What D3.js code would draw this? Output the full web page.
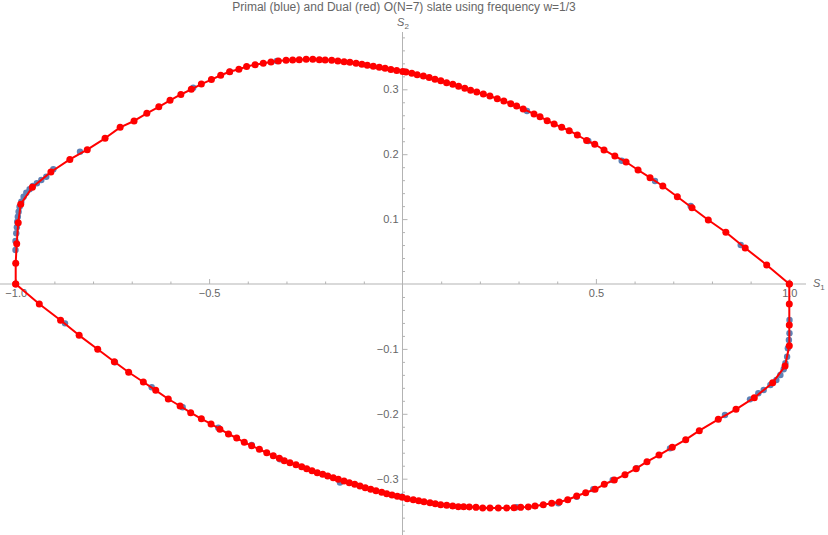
<!DOCTYPE html>
<html>
<head>
<meta charset="utf-8">
<script src="https://cdn.jsdelivr.net/npm/d3@7"></script>
<style>
  body { margin: 0; background: #fff; }
  svg { display: block; font-family: "Liberation Sans", Arial, sans-serif; }
</style>
</head>
<body>
<div id="chart"></div>
<script>
// Slate O(N=7): primal (azul) y dual (rojo) en el plano S1-S2.

const TITLE = "Primal (blue) and Dual (red) O(N=7) slate using frequency w=1/3";

// rama superior del dual, de S1=-1 a S1=1
const dualUpper = [
  [-1.0, 0.0], [-1.0, 0.032], [-0.9974, 0.062], [-0.9935, 0.0945], [-0.987, 0.123],
  [-0.957, 0.149], [-0.909, 0.1726], [-0.860, 0.192], [-0.815, 0.207], [-0.769, 0.2245],
  [-0.730, 0.2414], [-0.694, 0.2512], [-0.661, 0.263], [-0.630, 0.273], [-0.601, 0.283],
  [-0.573, 0.292], [-0.546, 0.300], [-0.520, 0.308], [-0.494, 0.315], [-0.470, 0.3216],
  [-0.447, 0.327], [-0.423, 0.331], [-0.403, 0.335], [-0.381, 0.338], [-0.360, 0.340],
  [-0.340, 0.342], [-0.321, 0.3435], [-0.301, 0.3447], [-0.284, 0.3452], [-0.267, 0.3456],
  [-0.249, 0.3462], [-0.232, 0.3462], [-0.215, 0.3456], [-0.200, 0.3452], [-0.183, 0.3447],
  [-0.167, 0.3436], [-0.151, 0.3425], [-0.136, 0.3416], [-0.120, 0.340], [-0.105, 0.3385],
  [-0.091, 0.337], [-0.0755, 0.3354], [-0.060, 0.334], [-0.045, 0.3324], [-0.030, 0.3305],
  [-0.015, 0.329], [0.0005, 0.3275], [0.009, 0.3267], [0.024, 0.3247], [0.038, 0.3225],
  [0.054, 0.3205], [0.069, 0.318], [0.084, 0.3154], [0.099, 0.3133], [0.114, 0.310],
  [0.130, 0.3077], [0.145, 0.3046], [0.161, 0.3015], [0.176, 0.2985], [0.192, 0.2958],
  [0.209, 0.2928], [0.226, 0.2897], [0.245, 0.2855], [0.262, 0.282], [0.280, 0.2778],
  [0.295, 0.2743], [0.312, 0.2696], [0.340, 0.262], [0.3555, 0.2578], [0.374, 0.2516],
  [0.392, 0.2465], [0.4116, 0.2414], [0.431, 0.2362], [0.452, 0.2296], [0.476, 0.2211],
  [0.497, 0.2153], [0.521, 0.2065], [0.549, 0.1972], [0.578, 0.188], [0.609, 0.1757],
  [0.640, 0.1638], [0.673, 0.151], [0.7105, 0.1345], [0.7485, 0.1176], [0.7906, 0.0986],
  [0.836, 0.0797], [0.886, 0.0555], [0.9416, 0.0293], [1.0, 0.0]
];

// rama inferior del dual, de S1=-1 a S1=1
const dualLower = [
  [-1.0, 0.0], [-0.939, -0.0308], [-0.884, -0.0559], [-0.836, -0.0791], [-0.788, -0.1006],
  [-0.745, -0.1197], [-0.708, -0.136], [-0.670, -0.151], [-0.638, -0.1638], [-0.6055, -0.1772],
  [-0.575, -0.188], [-0.5476, -0.1983], [-0.520, -0.2077], [-0.495, -0.2157], [-0.472, -0.2237],
  [-0.450, -0.2311], [-0.4287, -0.2373], [-0.409, -0.2439], [-0.390, -0.2492], [-0.370, -0.2547],
  [-0.351, -0.260], [-0.334, -0.2646], [-0.3185, -0.2686], [-0.3056, -0.2723], [-0.291, -0.2753],
  [-0.2753, -0.2784], [-0.2606, -0.2815], [-0.2477, -0.2846], [-0.234, -0.2877], [-0.2203, -0.2908],
  [-0.2063, -0.2932], [-0.1934, -0.2958], [-0.179, -0.2984], [-0.166, -0.3009], [-0.1512, -0.3035],
  [-0.1375, -0.3062], [-0.1236, -0.3086], [-0.1099, -0.3112], [-0.0962, -0.3138], [-0.0822, -0.3163],
  [-0.0685, -0.3185], [-0.0538, -0.321], [-0.0408, -0.3231], [-0.0271, -0.3251], [-0.0134, -0.3271],
  [-0.0005, -0.3287], [0.0124, -0.3308], [0.0279, -0.3323], [0.0419, -0.3339], [0.0556, -0.3354],
  [0.0711, -0.337], [0.0848, -0.3385], [0.0988, -0.340], [0.1143, -0.341], [0.1298, -0.342],
  [0.1443, -0.3431], [0.158, -0.3433], [0.1727, -0.3436], [0.190, -0.3441], [0.2073, -0.3451],
  [0.2262, -0.3451], [0.2477, -0.3451], [0.2694, -0.3451], [0.2883, -0.3447], [0.3056, -0.3441],
  [0.3252, -0.3436], [0.3426, -0.342], [0.364, -0.340], [0.3857, -0.3379], [0.4054, -0.3359],
  [0.4271, -0.3324], [0.4504, -0.3267], [0.4736, -0.3216], [0.4977, -0.3163], [0.5217, -0.3086],
  [0.5476, -0.302], [0.5752, -0.2938], [0.6037, -0.2846], [0.6321, -0.2738], [0.6631, -0.2635],
  [0.6975, -0.2516], [0.7322, -0.2399], [0.7673, -0.226], [0.8164, -0.2085], [0.8622, -0.1931],
  [0.9095, -0.1752], [0.957, -0.1521], [0.989, -0.1264], [1.0, -0.0951], [1.0, -0.0632],
  [1.0, -0.0308], [1.0, 0.0]
];

// puntos del primal que se ven por debajo del dual
const primal = [
  [-1.0005, 0.0524], [-1.0005, 0.0663], [-0.9985, 0.0781], [-0.997, 0.0874], [-0.996, 0.096],
  [-0.9945, 0.1037], [-0.9925, 0.1114], [-0.99, 0.1191], [-0.9855, 0.1268], [-0.9796, 0.1345],
  [-0.9726, 0.1407], [-0.9641, 0.1459], [-0.9555, 0.151], [-0.9452, 0.1552], [-0.9338, 0.1602],
  [-0.9209, 0.1653], [-0.9027, 0.1767], [-0.8338, 0.2039], [-0.541, 0.3025], [-0.446, 0.327],
  [-0.325, 0.3436], [0.0065, 0.3271], [0.3219, 0.2666], [0.4804, 0.2203], [0.5667, 0.19],
  [0.6528, 0.1587], [0.745, 0.1202], [0.8744, 0.0601],
  [1.0005, -0.0555], [1.0005, -0.076], [0.999, -0.0863], [0.9963, -0.099], [0.9943, -0.112],
  [0.9899, -0.1222], [0.9855, -0.1314], [0.977, -0.1402], [0.9666, -0.1479], [0.9511, -0.1556],
  [0.9338, -0.1633], [0.9199, -0.1684], [0.8984, -0.1777], [0.8337, -0.2018],
  [-0.8725, -0.0606], [-0.7433, -0.1206], [-0.6484, -0.1592], [-0.5683, -0.19], [-0.4762, -0.2214],
  [-0.39, -0.248], [-0.3167, -0.270], [-0.1616, -0.306], [-0.002, -0.3277], [0.2952, -0.344],
  [0.4028, -0.3379], [0.4504, -0.3277], [0.4933, -0.3163], [0.5434, -0.302], [0.6055, -0.284],
  [0.6916, -0.2532]
];

const xTicks = [-1.0, -0.5, 0.5, 1.0];
const yTicks = [-0.3, -0.2, -0.1, 0.1, 0.2, 0.3];

const width = 828, height = 535;
const AXIS = '#b3b3b3', LABEL = '#666666';
const BLUE = '#5e81b5', RED = '#ff0000';

const x = d3.scaleLinear().domain([-1, 1]).range([15.7, 789.3]);
const y = d3.scaleLinear().domain([-0.3, 0.3]).range([478.7, 89.3]);

const fmt = v => (v < 0 ? '\u2212' : '') + Math.abs(v).toFixed(1);

const svg = d3.select('#chart').append('svg')
  .attr('width', width).attr('height', height);

// titulo
svg.append('text')
  .attr('x', 404).attr('y', 11).attr('text-anchor', 'middle')
  .attr('fill', LABEL).attr('font-size', '12px')
  .text(TITLE);

// eje x: lineas, ticks hacia arriba, etiquetas debajo
const xMinor = d3.range(-10, 11).map(i => i / 10).filter(v => Math.abs(v) > 1e-9 && !xTicks.some(t => Math.abs(t - v) < 1e-9));
const gx = svg.append('g').attr('transform', `translate(0,${y(0)})`);
gx.append('line').attr('x1', 0).attr('x2', 806).attr('stroke', AXIS);
gx.append('g').call(d3.axisBottom(x).tickValues(xMinor).tickSize(-2.5).tickFormat(''))
  .call(s => s.select('.domain').remove())
  .call(s => s.selectAll('line').attr('stroke', AXIS));
gx.append('g').call(d3.axisBottom(x).tickValues(xTicks).tickSize(-5).tickPadding(5).tickFormat(fmt))
  .call(s => s.select('.domain').remove())
  .call(s => s.selectAll('line').attr('stroke', AXIS))
  .call(s => s.selectAll('text').attr('fill', LABEL).attr('font-size', '11px')
    .attr('font-family', '"Liberation Sans", Arial, sans-serif'));

// eje y: ticks hacia la derecha, etiquetas a la izquierda
const yMinor = d3.range(-19, 20).map(i => i / 50).filter(v => Math.abs(v) > 1e-9 && !yTicks.some(t => Math.abs(t - v) < 1e-9));
const gy = svg.append('g').attr('transform', `translate(${x(0)},0)`);
gy.append('line').attr('y1', 32).attr('y2', height).attr('stroke', AXIS);
gy.append('g').call(d3.axisLeft(y).tickValues(yMinor).tickSize(-2.5).tickFormat(''))
  .call(s => s.select('.domain').remove())
  .call(s => s.selectAll('line').attr('stroke', AXIS));
gy.append('g').call(d3.axisLeft(y).tickValues(yTicks).tickSize(-5).tickPadding(4).tickFormat(fmt))
  .call(s => s.select('.domain').remove())
  .call(s => s.selectAll('line').attr('stroke', AXIS))
  .call(s => s.selectAll('text').attr('fill', LABEL).attr('font-size', '11px')
    .attr('font-family', '"Liberation Sans", Arial, sans-serif'));

// nombres de ejes S1, S2
function axisName(xp, yp, anchor, sub) {
  const t = svg.append('text').attr('x', xp).attr('y', yp).attr('text-anchor', anchor)
    .attr('fill', LABEL).attr('font-size', '11px');
  t.append('tspan').attr('font-style', 'italic').text('S');
  t.append('tspan').attr('dy', 3).attr('font-size', '8px').text(sub);
}
axisName(813, 287, 'start', '1');
axisName(403, 26, 'middle', '2');

// primal: solo puntos
svg.append('g').selectAll('circle').data(primal).join('circle')
  .attr('cx', d => x(d[0])).attr('cy', d => y(d[1])).attr('r', 3.2)
  .attr('fill', BLUE);

// dual: linea + puntos
const line = d3.line().x(d => x(d[0])).y(d => y(d[1]));
[dualUpper, dualLower].forEach(branch => {
  svg.append('path').datum(branch)
    .attr('d', line).attr('fill', 'none')
    .attr('stroke', RED).attr('stroke-width', 2).attr('stroke-linejoin', 'round');
});
svg.append('g').selectAll('circle').data(dualUpper.concat(dualLower)).join('circle')
  .attr('cx', d => x(d[0])).attr('cy', d => y(d[1])).attr('r', 3.5)
  .attr('fill', RED);
</script>
</body>
</html>
